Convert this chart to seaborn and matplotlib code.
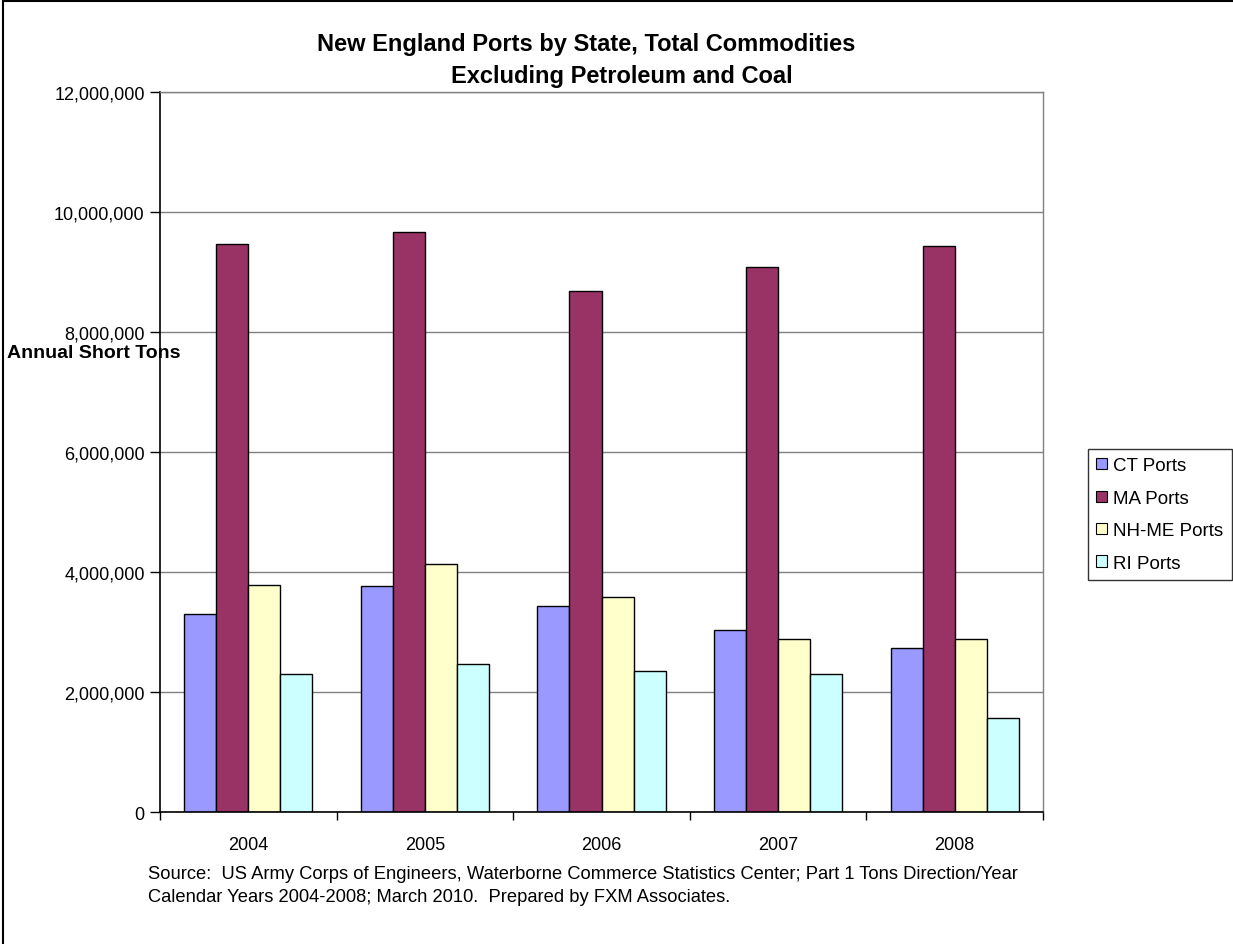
import matplotlib
matplotlib.use("Agg")
import matplotlib.pyplot as plt
import seaborn as sns
import pandas as pd
from matplotlib.patches import Patch
from matplotlib.lines import Line2D
from matplotlib.ticker import FuncFormatter

years = ["2004", "2005", "2006", "2007", "2008"]
series_names = ["CT Ports", "MA Ports", "NH-ME Ports", "RI Ports"]
ct_ports = [3300000, 3760000, 3430000, 3040000, 2730000]
ma_ports = [9460000, 9660000, 8680000, 9080000, 9440000]
nhme_ports = [3790000, 4140000, 3590000, 2890000, 2890000]
ri_ports = [2300000, 2475000, 2350000, 2300000, 1570000]
colors = ["#9999FF", "#993366", "#FFFFCC", "#CCFFFF"]
yticks = [0, 2000000, 4000000, 6000000, 8000000, 10000000, 12000000]

rows = []
for name, vals in zip(series_names, [ct_ports, ma_ports, nhme_ports, ri_ports]):
    for y, v in zip(years, vals):
        rows.append({"Year": y, "Series": name, "Tons": v})
df = pd.DataFrame(rows)

sns.set_theme(style="white")
plt.rcParams["font.family"] = ["Liberation Sans", "DejaVu Sans"]
plt.rcParams["text.color"] = "black"
plt.rcParams["axes.labelcolor"] = "black"
plt.rcParams["xtick.color"] = "black"
plt.rcParams["ytick.color"] = "black"

fig = plt.figure(figsize=(12.33, 9.45), dpi=100)
ax = fig.add_axes([160/1233, 1-813/945, (1043-160)/1233, (813-93)/945])

sns.barplot(data=df, x="Year", y="Tons", hue="Series", order=years,
            hue_order=series_names, palette=colors, width=0.727, gap=0,
            edgecolor="black", linewidth=1, saturation=1, ax=ax, legend=False,
            errorbar=None)

ax.set_ylim(0, 12000000)
ax.set_xlim(-0.5, 4.5)
ax.set_yticks(yticks)
ax.yaxis.set_major_formatter(FuncFormatter(lambda v, p: f"{int(v):,}"))
ax.yaxis.grid(True, color="#808080", linewidth=1)
ax.set_axisbelow(True)
ax.set_xlabel("")
ax.set_ylabel("")

ax.tick_params(axis="y", which="major", direction="out", length=7, width=1,
               color="black", labelsize=13, pad=4, left=True, labelcolor="black")
ax.tick_params(axis="x", which="major", length=0, labelsize=13, pad=17, labelcolor="black")
ax.set_xticks([-0.5, 0.5, 1.5, 2.5, 3.5, 4.5], minor=True)
ax.tick_params(axis="x", which="minor", direction="out", length=6, width=1,
               color="black", bottom=True)

for side in ["left", "bottom"]:
    ax.spines[side].set_color("black")
    ax.spines[side].set_linewidth(1.2)
for side in ["top", "right"]:
    ax.spines[side].set_visible(True)
    ax.spines[side].set_color("#808080")
    ax.spines[side].set_linewidth(1)

# Title
fig.text(586/1233, 1-45/945, "New England Ports by State, Total Commodities",
         ha="center", va="center", fontsize=17, fontweight="bold", color="black")
fig.text(622/1233, 1-76/945, "Excluding Petroleum and Coal",
         ha="center", va="center", fontsize=17, fontweight="bold", color="black")

# Y axis label
fig.text(94/1233, 1-353/945, "Annual Short Tons", ha="center", va="center",
         fontsize=14, fontweight="bold", color="black")

# Source note
fig.text(148/1233, 1-875/945,
         "Source:  US Army Corps of Engineers, Waterborne Commerce Statistics Center; Part 1 Tons Direction/Year",
         ha="left", va="center", fontsize=13.2, color="black")
fig.text(148/1233, 1-898/945,
         "Calendar Years 2004-2008; March 2010.  Prepared by FXM Associates.",
         ha="left", va="center", fontsize=13.2, color="black")

# Legend
handles = [Patch(facecolor=c, edgecolor="black", linewidth=0.8) for c in colors]
leg = fig.legend(handles, series_names, loc="upper left",
                 bbox_to_anchor=(1088/1233, 1-450/945), fontsize=13.5,
                 frameon=True, fancybox=False, edgecolor="black",
                 handlelength=0.55, handleheight=0.55, handletextpad=0.35,
                 labelspacing=0.82, borderpad=0.45, borderaxespad=0)
leg.get_frame().set_linewidth(1)
for t in leg.get_texts():
    t.set_color("black")

# Outer chart border (left and top visible)
fig.add_artist(Line2D([3/1233, 3/1233], [0, 1-2/945], color="black", linewidth=1.5,
                      transform=fig.transFigure))
fig.add_artist(Line2D([3/1233, 1], [1-2/945, 1-2/945], color="black", linewidth=1.5,
                      transform=fig.transFigure))

fig.savefig("out.png", dpi=100, facecolor="white")
